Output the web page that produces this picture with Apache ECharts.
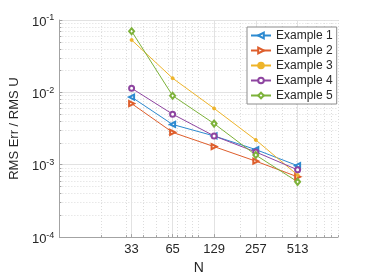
<!DOCTYPE html>
<html>
<head>
<meta charset="utf-8">
<script src="https://cdn.jsdelivr.net/npm/echarts@6/dist/echarts.min.js"></script>
<style>html,body{margin:0;padding:0;background:#fff}#c{width:374px;height:280px}</style>
</head>
<body>
<div id="c"></div>
<script>
var N = [33, 65, 129, 257, 513];
var ex1 = [0.0086, 0.0036, 0.0025, 0.00162, 0.00097];
var ex2 = [0.0070, 0.0028, 0.00178, 0.00112, 0.00068];
var ex3 = [0.053, 0.0157, 0.0060, 0.0022, 0.00072];
var ex4 = [0.0114, 0.0050, 0.0025, 0.0015, 0.00085];
var ex5 = [0.070, 0.0090, 0.0037, 0.00136, 0.00058];
var names = ['Example 1', 'Example 2', 'Example 3', 'Example 4', 'Example 5'];
var xTicks = [33, 65, 129, 257, 513];
var yTicks = [-4, -3, -2, -1];

var colors = ['#2d8ad0', '#de5e2c', '#eeb42a', '#8e45a0', '#7db23a'];
var FONT = 'Liberation Sans, Arial, Helvetica, sans-serif';

function lg(v) { return Math.log(v) / Math.LN10; }
var xMinor = [];
[10, 100].forEach(function (d) { for (var k = 2; k <= 10; k++) xMinor.push(lg(k * d)); });
var yMinor = [];
[1e-4, 1e-3, 1e-2].forEach(function (d) { for (var k = 2; k <= 9; k++) yMinor.push(lg(k * d)); });

var chart = echarts.init(document.getElementById('c'), null, {renderer: 'canvas'});
var sets = [ex1, ex2, ex3, ex4, ex5];
var symbols = ['emptyTriangle', 'emptyTriangle', 'circle', 'emptyCircle', 'emptyDiamond'];
var rot = [90, -90, 0, 0, 0];
var sizes = [5, 5, 3, 5, [5, 6]];

var series = sets.map(function (s, i) {
  return {
    name: names[i],
    type: 'line',
    xAxisIndex: 0,
    yAxisIndex: 0,
    data: N.map(function (n, j) { return [n, s[j]]; }),
    symbol: symbols[i],
    symbolSize: sizes[i],
    symbolRotate: rot[i],
    showAllSymbol: true,
    animation: false,
    lineStyle: {width: 1, color: colors[i]},
    itemStyle: {color: colors[i], borderColor: colors[i], borderWidth: 1}
  };
});

var gridLine = '#e2e2e2';
var option = {
  backgroundColor: '#fff',
  animation: false,
  color: colors,
  grid: {left: 49, top: 20, width: 289, height: 222, containLabel: false},
  legend: {
    orient: 'vertical',
    left: 247,
    top: 27,
    data: names,
    backgroundColor: '#fff',
    borderColor: '#8c8c8c',
    borderWidth: 1,
    borderRadius: 0,
    padding: [1, 4, 1, 3],
    itemGap: 0,
    itemWidth: 20,
    itemHeight: 7,
    symbolRotate: 'inherit',
    textStyle: {fontFamily: FONT, fontSize: 12, color: '#262626', lineHeight: 15}
  },
  xAxis: [
    {type: 'log', logBase: 10, min: 10, max: 1000, show: false, gridIndex: 0},
    {
      type: 'value', min: 1, max: 3, gridIndex: 0, position: 'bottom',
      axisLine: {show: true, lineStyle: {color: '#a3a3a3', width: 1}},
      axisTick: {show: true, inside: true, length: 3, customValues: xTicks.map(lg), lineStyle: {color: '#a3a3a3'}},
      axisLabel: {
        customValues: xTicks.map(lg), margin: 6,
        fontFamily: FONT, fontSize: 13, color: '#262626',
        formatter: function (v) { return String(Math.round(Math.pow(10, v))); }
      },
      splitLine: {show: true, lineStyle: {color: gridLine, width: 1}},
      name: 'N', nameLocation: 'middle', nameGap: 20,
      nameTextStyle: {fontFamily: FONT, fontSize: 14, color: '#262626'}
    },
    {
      type: 'value', min: 1, max: 3, gridIndex: 0, position: 'bottom',
      axisLine: {show: false},
      axisTick: {show: true, inside: true, length: 2, customValues: xMinor, lineStyle: {color: '#a3a3a3'}},
      axisLabel: {show: false},
      splitLine: {show: true, lineStyle: {color: '#dcdcdc', width: 1, type: [1, 2]}}
    }
  ],
  yAxis: [
    {type: 'log', logBase: 10, min: 1e-4, max: 1e-1, show: false, gridIndex: 0},
    {
      type: 'value', min: -4, max: -1, interval: 1, gridIndex: 0, position: 'left',
      axisLine: {show: true, lineStyle: {color: '#a3a3a3', width: 1}},
      axisTick: {show: true, inside: true, length: 3, customValues: yTicks, lineStyle: {color: '#a3a3a3'}},
      axisLabel: {
        customValues: yTicks, margin: 5,
        formatter: function (v) { return '{b|10}{s|' + Math.round(v) + '}'; },
        rich: {
          b: {fontFamily: FONT, fontSize: 13, color: '#262626', lineHeight: 13, padding: [4, 0, 0, 0]},
          s: {fontFamily: FONT, fontSize: 9, color: '#262626', lineHeight: 9, verticalAlign: 'top'}
        }
      },
      splitLine: {show: true, lineStyle: {color: gridLine, width: 1}},
      name: 'RMS Err / RMS U', nameLocation: 'middle', nameGap: 32,
      nameTextStyle: {fontFamily: FONT, fontSize: 13, color: '#262626'}
    },
    {
      type: 'value', min: -4, max: -1, gridIndex: 0, position: 'left',
      axisLine: {show: false},
      axisTick: {show: true, inside: true, length: 2, customValues: yMinor, lineStyle: {color: '#a3a3a3'}},
      axisLabel: {show: false},
      splitLine: {show: true, lineStyle: {color: '#dcdcdc', width: 1, type: [1, 2]}}
    }
  ],
  series: series
};
chart.setOption(option);
</script>
</body>
</html>
